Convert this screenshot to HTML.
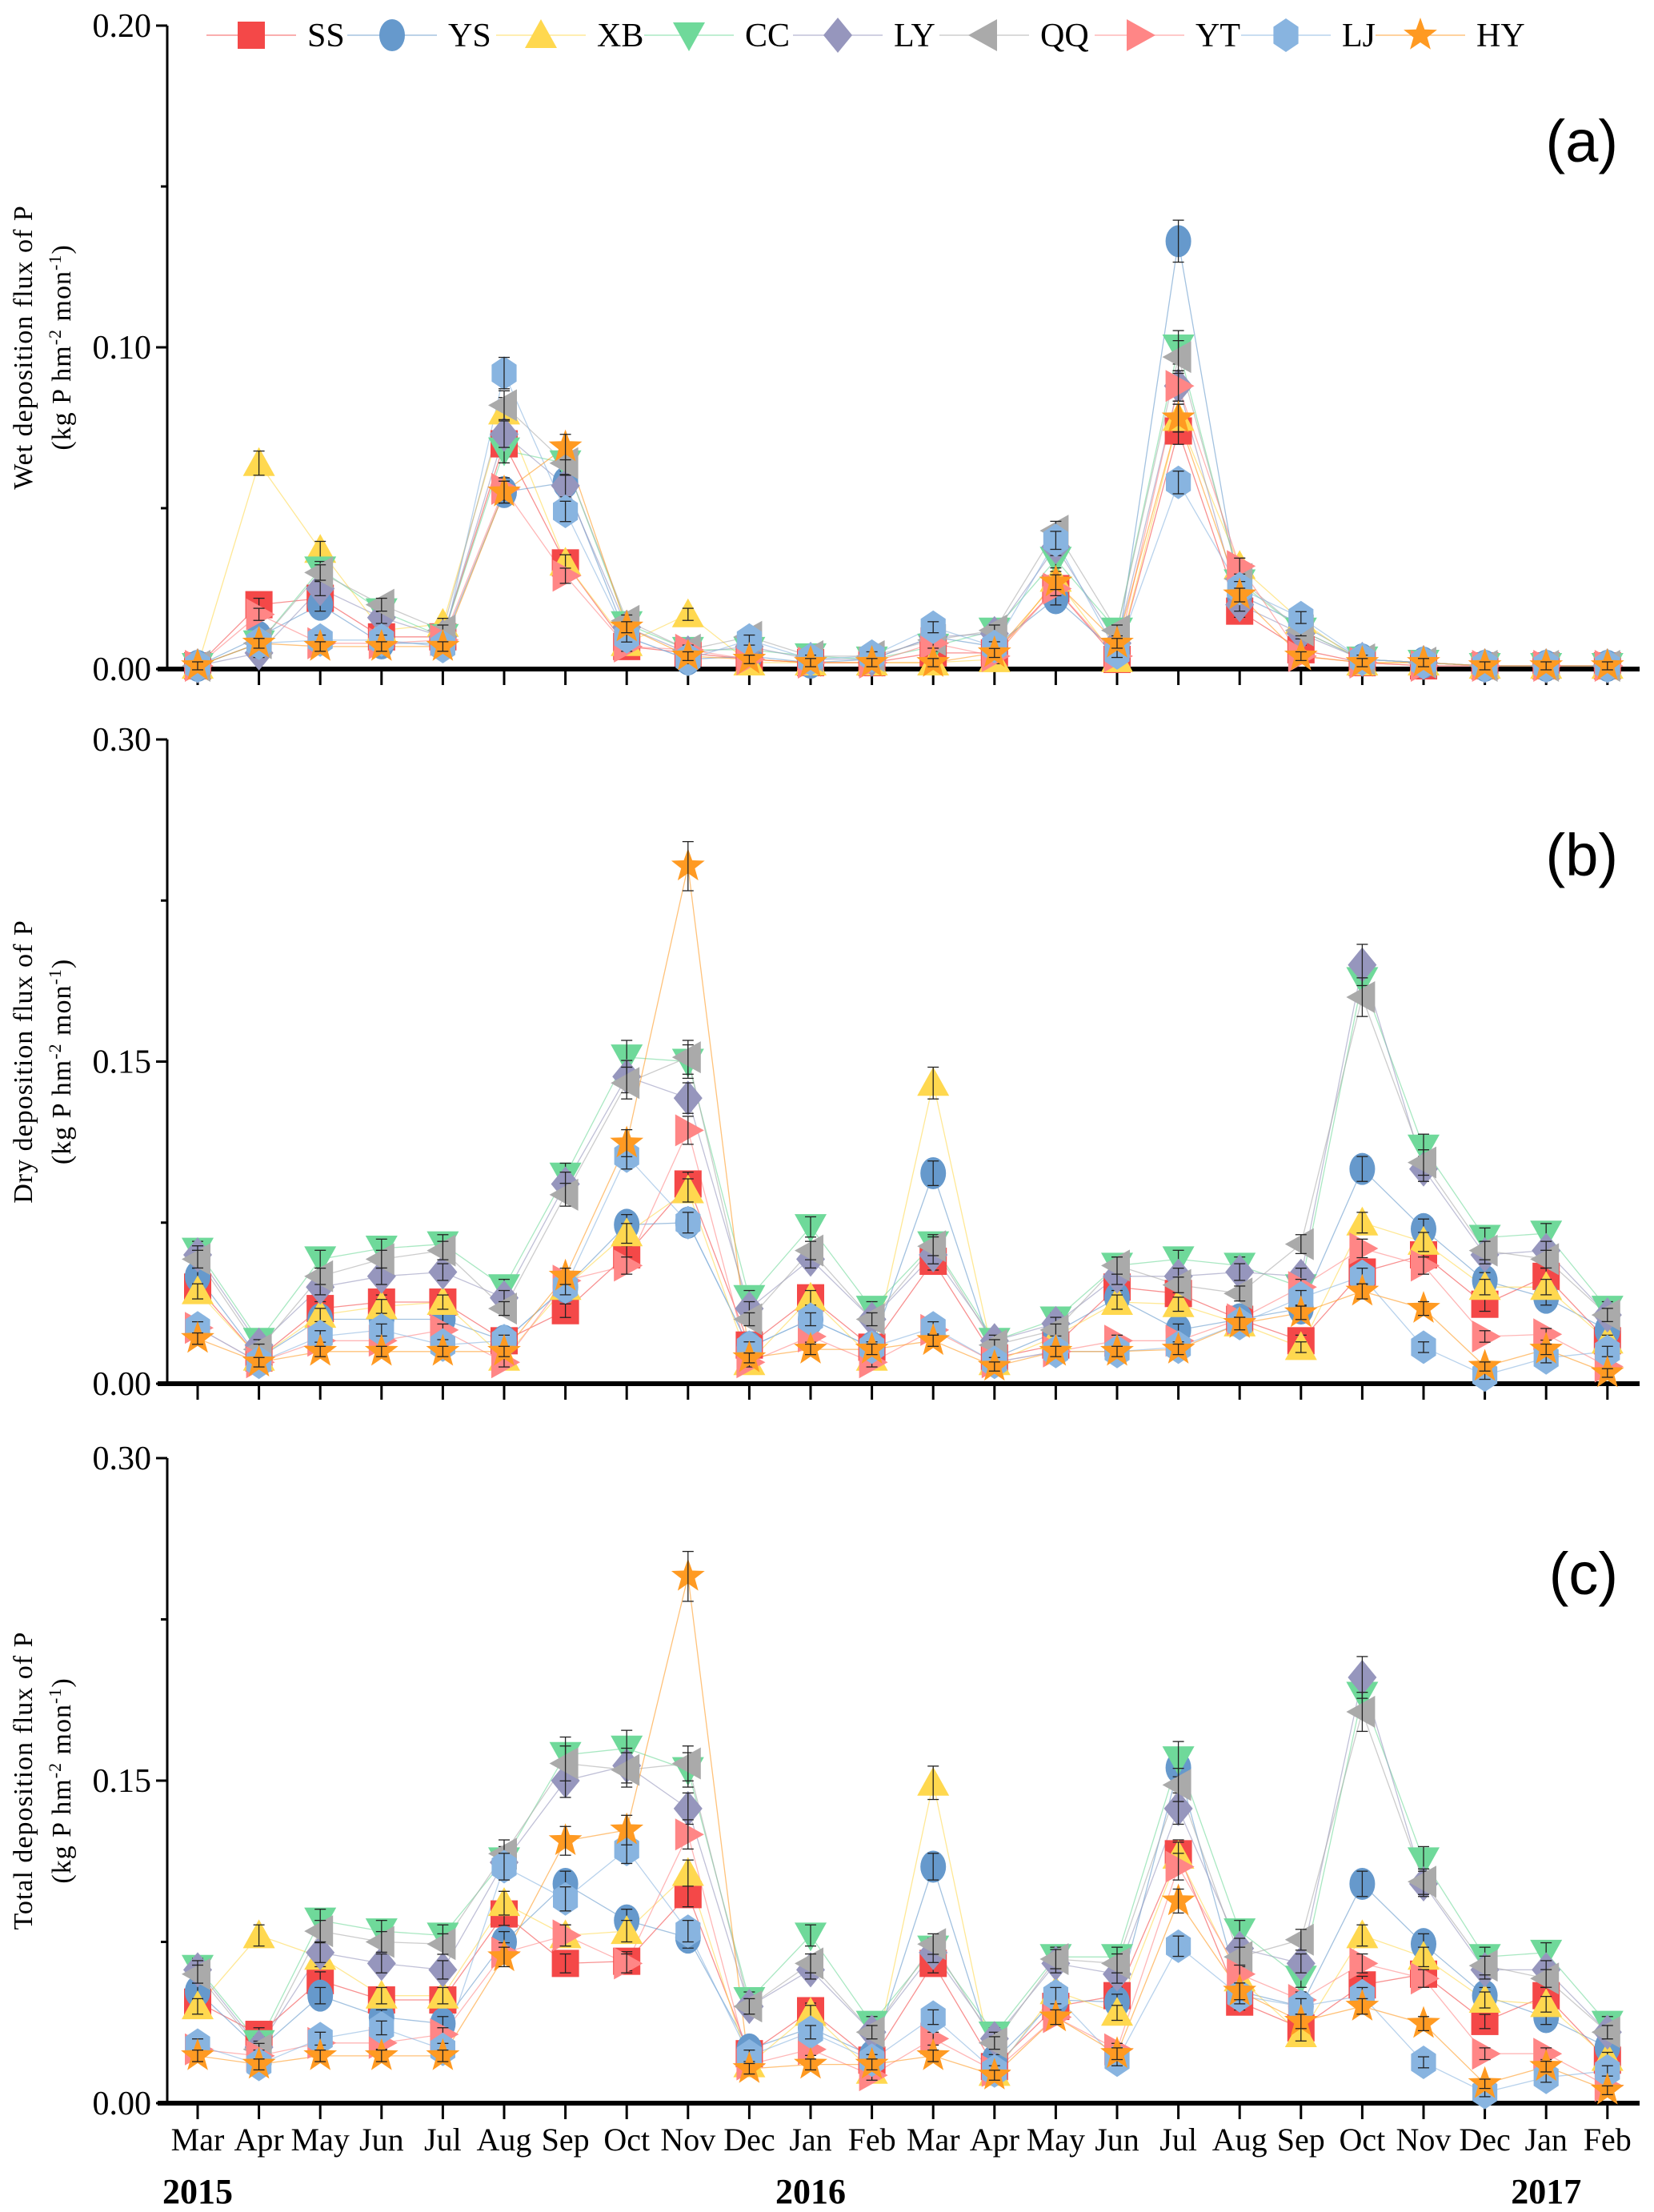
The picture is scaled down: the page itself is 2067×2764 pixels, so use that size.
<!DOCTYPE html>
<html><head><meta charset="utf-8"><style>
html,body{margin:0;padding:0;background:#fff}
svg{display:block}
text{font-family:"Liberation Serif",serif}
</style></head><body>
<svg id="chart" width="2067" height="2764" viewBox="0 0 2067 2764" xmlns="http://www.w3.org/2000/svg"></svg>
<script>
const months=["Mar","Apr","May","Jun","Jul","Aug","Sep","Oct","Nov","Dec","Jan","Feb","Mar","Apr","May","Jun","Jul","Aug","Sep","Oct","Nov","Dec","Jan","Feb"];
const seriesNames=["SS","YS","XB","CC","LY","QQ","YT","LJ","HY"];
const wetSS=[0.001,0.020,0.022,0.010,0.010,0.070,0.033,0.007,0.005,0.003,0.002,0.002,0.005,0.005,0.025,0.003,0.074,0.018,0.006,0.002,0.001,0.001,0.001,0.001];
const wetYS=[0.001,0.010,0.020,0.008,0.008,0.055,0.058,0.010,0.003,0.004,0.002,0.003,0.010,0.007,0.022,0.005,0.133,0.023,0.014,0.003,0.002,0.001,0.001,0.001];
const wetXB=[0.001,0.064,0.037,0.012,0.014,0.080,0.033,0.008,0.017,0.002,0.002,0.002,0.002,0.003,0.028,0.003,0.078,0.032,0.015,0.002,0.002,0.001,0.001,0.001];
const wetCC=[0.001,0.008,0.031,0.018,0.010,0.068,0.064,0.014,0.006,0.006,0.004,0.003,0.007,0.012,0.034,0.012,0.100,0.027,0.012,0.003,0.002,0.001,0.001,0.001];
const wetLY=[0.001,0.005,0.025,0.016,0.010,0.073,0.057,0.013,0.005,0.007,0.003,0.003,0.010,0.011,0.038,0.008,0.088,0.020,0.011,0.003,0.002,0.001,0.001,0.001];
const wetQQ=[0.001,0.008,0.030,0.020,0.012,0.082,0.064,0.015,0.006,0.010,0.004,0.004,0.009,0.012,0.043,0.012,0.097,0.028,0.012,0.003,0.002,0.001,0.001,0.001];
const wetYT=[0.001,0.017,0.008,0.008,0.009,0.056,0.029,0.007,0.006,0.003,0.002,0.002,0.008,0.004,0.025,0.004,0.088,0.032,0.004,0.002,0.001,0.001,0.001,0.001];
const wetLJ=[0.001,0.008,0.009,0.009,0.007,0.092,0.049,0.010,0.003,0.009,0.003,0.004,0.013,0.007,0.040,0.005,0.058,0.025,0.016,0.003,0.002,0.001,0.001,0.001];
const wetHY=[0.001,0.008,0.007,0.007,0.007,0.055,0.069,0.013,0.004,0.003,0.002,0.002,0.002,0.005,0.027,0.008,0.078,0.023,0.004,0.002,0.002,0.001,0.001,0.001];
const drySS=[0.045,0.012,0.035,0.038,0.038,0.020,0.034,0.060,0.093,0.018,0.040,0.017,0.057,0.012,0.018,0.045,0.042,0.030,0.020,0.052,0.060,0.037,0.050,0.020];
const dryYS=[0.050,0.012,0.030,0.030,0.030,0.020,0.045,0.074,0.075,0.017,0.030,0.017,0.098,0.012,0.024,0.040,0.025,0.030,0.035,0.100,0.072,0.048,0.040,0.025];
const dryXB=[0.043,0.012,0.032,0.036,0.038,0.012,0.045,0.070,0.090,0.010,0.040,0.012,0.140,0.010,0.022,0.038,0.037,0.028,0.017,0.075,0.066,0.045,0.045,0.020];
const dryCC=[0.062,0.020,0.058,0.063,0.065,0.045,0.097,0.152,0.150,0.040,0.073,0.035,0.065,0.020,0.030,0.055,0.058,0.055,0.045,0.188,0.110,0.068,0.070,0.035];
const dryLY=[0.060,0.018,0.045,0.050,0.052,0.040,0.093,0.143,0.133,0.035,0.058,0.030,0.060,0.020,0.028,0.050,0.050,0.052,0.050,0.195,0.100,0.060,0.062,0.032];
const dryQQ=[0.058,0.016,0.050,0.058,0.062,0.035,0.088,0.140,0.152,0.030,0.062,0.030,0.064,0.018,0.025,0.055,0.046,0.042,0.065,0.180,0.103,0.062,0.058,0.032];
const dryYT=[0.026,0.010,0.020,0.020,0.025,0.010,0.048,0.055,0.118,0.010,0.022,0.010,0.025,0.010,0.015,0.020,0.020,0.030,0.045,0.063,0.055,0.022,0.023,0.008];
const dryLJ=[0.026,0.010,0.022,0.025,0.018,0.020,0.045,0.106,0.075,0.017,0.030,0.017,0.026,0.010,0.015,0.015,0.017,0.028,0.040,0.050,0.017,0.004,0.012,0.015];
const dryHY=[0.021,0.010,0.015,0.015,0.015,0.015,0.050,0.112,0.241,0.012,0.016,0.016,0.020,0.008,0.015,0.015,0.016,0.028,0.033,0.043,0.035,0.008,0.016,0.005];
const totSS=[0.047,0.032,0.057,0.048,0.048,0.088,0.065,0.066,0.097,0.023,0.043,0.020,0.065,0.017,0.045,0.050,0.116,0.047,0.035,0.055,0.060,0.038,0.050,0.020];
const totYS=[0.052,0.025,0.050,0.040,0.037,0.075,0.102,0.085,0.077,0.025,0.035,0.022,0.110,0.020,0.048,0.047,0.156,0.052,0.045,0.102,0.074,0.050,0.040,0.026];
const totXB=[0.045,0.078,0.068,0.050,0.050,0.093,0.078,0.080,0.107,0.018,0.042,0.015,0.149,0.014,0.052,0.042,0.115,0.058,0.032,0.078,0.068,0.048,0.046,0.021];
const totCC=[0.063,0.028,0.085,0.080,0.078,0.113,0.162,0.165,0.155,0.048,0.078,0.037,0.072,0.032,0.068,0.068,0.160,0.080,0.058,0.190,0.113,0.068,0.070,0.037];
const totLY=[0.062,0.026,0.070,0.065,0.062,0.112,0.150,0.157,0.137,0.045,0.062,0.033,0.070,0.030,0.065,0.060,0.137,0.072,0.065,0.198,0.102,0.062,0.062,0.033];
const totQQ=[0.060,0.025,0.080,0.075,0.074,0.116,0.158,0.155,0.158,0.045,0.065,0.033,0.074,0.028,0.067,0.065,0.148,0.068,0.076,0.182,0.103,0.064,0.058,0.033];
const totYT=[0.025,0.022,0.028,0.028,0.032,0.070,0.078,0.065,0.125,0.018,0.025,0.013,0.030,0.015,0.040,0.025,0.110,0.060,0.048,0.065,0.058,0.023,0.023,0.008];
const totLJ=[0.027,0.018,0.030,0.035,0.025,0.110,0.095,0.118,0.080,0.022,0.033,0.020,0.040,0.015,0.050,0.020,0.073,0.050,0.045,0.050,0.019,0.005,0.012,0.015];
const totHY=[0.022,0.018,0.022,0.022,0.022,0.068,0.122,0.127,0.245,0.016,0.018,0.018,0.022,0.013,0.040,0.023,0.094,0.052,0.038,0.045,0.037,0.009,0.017,0.006];
const wetTicks=["0.00","0.10","0.20"];
const dryTicks=["0.00","0.15","0.30"];
const totTicks=["0.00","0.15","0.30"];

const colors=["#f44848","#6699cc","#ffd84f","#6fd99a","#9696bd","#aaaaaa","#ff8686","#88b4e0","#ff9a22"];
const shapes=["square","circle","up","down","diamond","left","right","hex","star"];
const NS="http://www.w3.org/2000/svg";
const svg=document.getElementById('chart');
function mk(tag,attrs,parent){const e=document.createElementNS(NS,tag);for(const k in attrs)e.setAttribute(k,attrs[k]);(parent||svg).appendChild(e);return e;}
const X0=247, DX=76.6, AXL=209, AXR=2049;
function xPos(i){return X0+i*DX;}

function marker(g,shape,cx,cy,col,r){
  let e;
  if(shape==="square") e=mk('rect',{x:cx-r*0.85,y:cy-r*0.85,width:r*1.7,height:r*1.7,fill:col},g);
  else if(shape==="circle") e=mk('ellipse',{cx:cx,cy:cy,rx:r*0.8,ry:r,fill:col},g);
  else {
    let pts=[];
    if(shape==="up") pts=[[0,-r],[r,r*0.8],[-r,r*0.8]];
    else if(shape==="down") pts=[[0,r],[r,-r*0.8],[-r,-r*0.8]];
    else if(shape==="diamond") pts=[[0,-r*1.1],[r*0.9,0],[0,r*1.1],[-r*0.9,0]];
    else if(shape==="left") pts=[[-r,0],[r*0.8,-r],[r*0.8,r]];
    else if(shape==="right") pts=[[r,0],[-r*0.8,-r],[-r*0.8,r]];
    else if(shape==="hex"){for(let k=0;k<6;k++){const a=Math.PI/2+k*Math.PI/3;pts.push([r*0.9*Math.cos(a),r*1.05*Math.sin(a)]);}}
    else if(shape==="star"){for(let k=0;k<10;k++){const a=-Math.PI/2+k*Math.PI/5;const rr=k%2?r*0.45:r*1.1;pts.push([rr*Math.cos(a),rr*Math.sin(a)]);}}
    e=mk('polygon',{points:pts.map(p=>(cx+p[0]).toFixed(1)+","+(cy+p[1]).toFixed(1)).join(" "),fill:col},g);
  }
  return e;
}

function panel(id,top,bottom,maxV,ticks,data,title,label){
  const g=mk('g',{});
  
  
  const yPos=v=>bottom-(v/maxV)*(bottom-top);
  const ya=mk('line',{x1:AXL,y1:top,x2:AXL,y2:bottom,stroke:'#000','stroke-width':3},g);
  
  const xa=mk('line',{x1:AXL-12,y1:bottom,x2:AXR,y2:bottom,stroke:'#000','stroke-width':6},g);
  
  ticks.forEach((t,i)=>{
    const v=maxV*i/(ticks.length-1), y=yPos(v);
    mk('line',{x1:AXL-14,y1:y,x2:AXL,y2:y,stroke:'#000','stroke-width':3},g);
    const tx=mk('text',{x:AXL-20,y:y+14,'text-anchor':'end','font-size':42},g);
    tx.textContent=t;
    
    if(i<ticks.length-1){const ym=yPos(v+maxV/(ticks.length-1)/2);mk('line',{x1:AXL-8,y1:ym,x2:AXL,y2:ym,stroke:'#000','stroke-width':3},g);}
  });
  months.forEach((m,i)=>{mk('line',{x1:xPos(i),y1:bottom,x2:xPos(i),y2:bottom+20,stroke:'#000','stroke-width':3},g);});
  const cy=(top+bottom)/2;
  const t1=mk('text',{x:0,y:0,'text-anchor':'middle','font-size':34,transform:`translate(40 ${cy}) rotate(-90)`,'letter-spacing':1},g);
  t1.textContent=title;
  
  const t2=mk('text',{x:0,y:0,'text-anchor':'middle','font-size':34,transform:`translate(88 ${cy}) rotate(-90)`,'letter-spacing':1},g);
  t2.innerHTML='(kg P hm<tspan dy="-12" font-size="22">-2</tspan><tspan dy="12"> mon</tspan><tspan dy="-12" font-size="22">-1</tspan><tspan dy="12">)</tspan>';
  
  const pl=mk('text',{x:2022,y:top+170,'text-anchor':'end','font-size':74,style:'font-family:"Liberation Sans",sans-serif'},g);
  pl.textContent=label;
  
  data.forEach((vals,s)=>{
    const p=mk('polyline',{points:vals.map((v,i)=>xPos(i)+","+yPos(v).toFixed(1)).join(" "),fill:'none',stroke:colors[s],'stroke-width':1.3,'stroke-opacity':0.6},g);
    
    
  });
  data.forEach((vals,s)=>{
    vals.forEach((v,i)=>{
      const cx=xPos(i), cy2=yPos(v);
      const m=marker(g,shapes[s],cx,cy2,colors[s],20);
      
      
      const e=(bottom-top)*0.006+(bottom-cy2)*0.04;
      mk('line',{x1:cx,y1:cy2-e,x2:cx,y2:cy2+e,stroke:'#222','stroke-width':1.3},g);
      mk('line',{x1:cx-7,y1:cy2-e,x2:cx+7,y2:cy2-e,stroke:'#222','stroke-width':1.3},g);
      mk('line',{x1:cx-7,y1:cy2+e,x2:cx+7,y2:cy2+e,stroke:'#222','stroke-width':1.3},g);
    });
  });
}
panel('wet',32,836,0.2,wetTicks,[wetSS,wetYS,wetXB,wetCC,wetLY,wetQQ,wetYT,wetLJ,wetHY],'Wet deposition flux of P','(a)');
panel('dry',924,1729,0.3,dryTicks,[drySS,dryYS,dryXB,dryCC,dryLY,dryQQ,dryYT,dryLJ,dryHY],'Dry deposition flux of P','(b)');
panel('total',1822,2628,0.3,totTicks,[totSS,totYS,totXB,totCC,totLY,totQQ,totYT,totLJ,totHY],'Total deposition flux of P','(c)');

months.forEach((m,i)=>{
  const t=mk('text',{x:xPos(i),y:2687,'text-anchor':'middle','font-size':40});
  t.textContent=m;
  
  
});
[["2015",0],["2016",10],["2017",22]].forEach(([y,i])=>{
  const t=mk('text',{x:xPos(i),y:2753,'text-anchor':'middle','font-size':44,'font-weight':'bold'});
  t.textContent=y;
  
  
});
const lg=mk('g',{});


const legX=[314,490,676,861,1047,1230,1424,1607,1775];
seriesNames.forEach((n,s)=>{
  const g=mk('g',{},lg);
  
  
  const cx=legX[s];
  mk('line',{x1:cx-56,y1:44,x2:cx+56,y2:44,stroke:colors[s],'stroke-width':1.3,'stroke-opacity':0.7},g);
  marker(g,shapes[s],cx,44,colors[s],20);
  const t=mk('text',{x:cx+70,y:58,'font-size':42},g);
  t.textContent=n;
});
</script>
</body></html>
